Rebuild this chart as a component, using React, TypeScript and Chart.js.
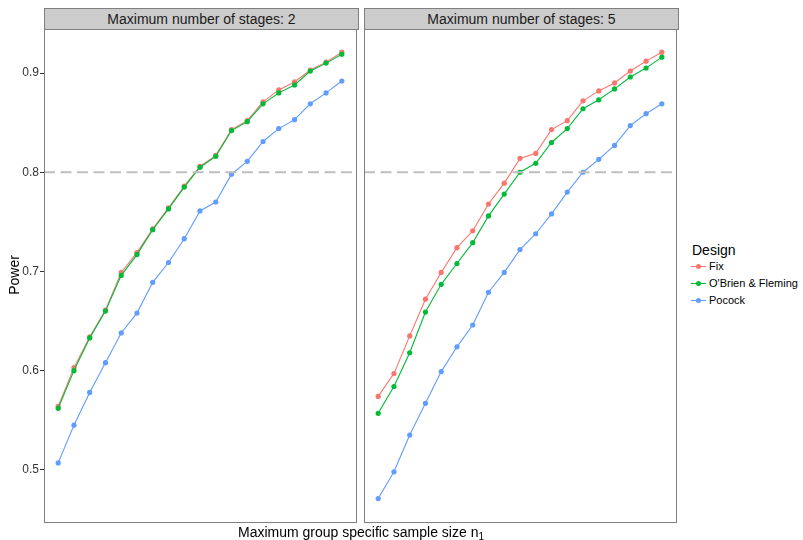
import React, { useEffect, useRef } from "react";
import { Chart, registerables } from "chart.js";
Chart.register(...registerables);

// ---- data ----
const steps = [1, 2, 3, 4, 5, 6, 7, 8, 9, 10, 11, 12, 13, 14, 15, 16, 17, 18, 19];
const yTicks = [0.5, 0.6, 0.7, 0.8, 0.9];
const threshold = 0.8;
const designs = ["Fix", "O'Brien & Fleming", "Pocock"];
const designColors = ["#F8766D", "#00BA38", "#619CFF"];
const panelTitles = ["Maximum number of stages: 2", "Maximum number of stages: 5"];

const fix2 = [0.564, 0.603, 0.634, 0.661, 0.699, 0.719, 0.743, 0.764, 0.786, 0.806, 0.817, 0.843, 0.852, 0.871, 0.883, 0.891, 0.903, 0.911, 0.921];
const obf2 = [0.562, 0.600, 0.633, 0.660, 0.696, 0.717, 0.742, 0.763, 0.785, 0.805, 0.816, 0.842, 0.851, 0.869, 0.880, 0.888, 0.902, 0.910, 0.919];
const pocock2 = [0.507, 0.545, 0.578, 0.608, 0.638, 0.658, 0.689, 0.709, 0.733, 0.761, 0.770, 0.798, 0.811, 0.831, 0.844, 0.853, 0.869, 0.880, 0.892];

const fix5 = [0.574, 0.597, 0.635, 0.672, 0.699, 0.724, 0.741, 0.768, 0.789, 0.814, 0.819, 0.843, 0.852, 0.872, 0.882, 0.890, 0.902, 0.912, 0.921];
const obf5 = [0.557, 0.584, 0.618, 0.659, 0.687, 0.708, 0.729, 0.756, 0.778, 0.800, 0.809, 0.830, 0.844, 0.864, 0.873, 0.884, 0.896, 0.905, 0.916];
const pocock5 = [0.471, 0.498, 0.535, 0.567, 0.599, 0.624, 0.646, 0.679, 0.699, 0.722, 0.738, 0.758, 0.780, 0.800, 0.813, 0.827, 0.847, 0.859, 0.869];

const FONT = "'Liberation Sans', Arial, Helvetica, sans-serif";
const X_MIN = 0.1;
const X_MAX = 19.9;
const Y_MIN = 0.4474;
const Y_MAX = 0.9444;

const borderPlugin = {
  id: "panelBorder",
  afterDraw(chart: any) {
    const { ctx, chartArea } = chart;
    ctx.save();
    ctx.strokeStyle = "#7F7F7F";
    ctx.lineWidth = 1;
    ctx.strokeRect(chartArea.left + 0.5, chartArea.top + 0.5, chartArea.right - chartArea.left, chartArea.bottom - chartArea.top);
    ctx.restore();
  },
};

function Panel(props: { series: number[][]; showY: boolean; left: number; width: number; padLeft: number; padRight: number }) {
  const ref = useRef<HTMLCanvasElement | null>(null);
  useEffect(() => {
    if (!ref.current) return;
    const mk = (vals: number[]) => steps.map((s, i) => ({ x: s, y: vals[i] }));
    const seriesDs = props.series.map((vals, k) => ({
      label: designs[k],
      data: mk(vals),
      borderColor: designColors[k],
      backgroundColor: designColors[k],
      borderWidth: 1.1,
      pointRadius: 2.6,
      pointBorderWidth: 0,
      pointBackgroundColor: designColors[k],
      tension: 0,
    }));
    const hline = {
      label: "threshold",
      data: [
        { x: X_MIN, y: threshold },
        { x: X_MAX, y: threshold },
      ],
      borderColor: "#BEBEBE",
      borderWidth: 2,
      borderDash: [11, 5.5],
      pointRadius: 0,
    };
    const yScale: any = {
      type: "linear",
      min: Y_MIN,
      max: Y_MAX,
      display: props.showY,
      afterBuildTicks: (scale: any) => {
        scale.ticks = yTicks.map((v) => ({ value: v }));
      },
      border: { display: false },
      grid: {
        display: true,
        drawOnChartArea: false,
        drawTicks: true,
        tickLength: 4,
        tickColor: "#333333",
        tickWidth: 1,
      },
      ticks: {
        padding: 1,
        color: "#333333",
        font: { family: FONT, size: 12 },
        callback: (v: any) => Number(v).toFixed(1),
      },
    };
    if (props.showY) {
      yScale.afterFit = (scale: any) => {
        scale.width = 44;
      };
    }
    const chart = new Chart(ref.current, {
      type: "line",
      data: { datasets: [hline, ...seriesDs.slice().reverse()] as any },
      options: {
        animation: false,
        responsive: false,
        maintainAspectRatio: false,
        layout: { padding: { top: 29, bottom: 18, left: props.padLeft, right: props.padRight } },
        plugins: { legend: { display: false }, tooltip: { enabled: false }, title: { display: false } },
        scales: {
          x: { type: "linear", min: X_MIN, max: X_MAX, display: false },
          y: yScale,
        },
      },
      plugins: [borderPlugin],
    });
    return () => chart.destroy();
  }, []);
  return (
    <canvas
      ref={ref}
      width={props.width}
      height={540}
      style={{ position: "absolute", left: props.left, top: 0, width: props.width, height: 540 }}
    />
  );
}

function Strip(props: { left: number; width: number; text: string }) {
  return (
    <div
      style={{
        position: "absolute",
        left: props.left,
        top: 8,
        width: props.width,
        height: 22,
        boxSizing: "border-box",
        background: "#CCCCCC",
        border: "1px solid #7F7F7F",
        fontFamily: FONT,
        fontSize: 14,
        color: "#1A1A1A",
        textAlign: "center",
        lineHeight: "20px",
      }}
    >
      {props.text}
    </div>
  );
}

export default function App() {
  return (
    <div style={{ position: "fixed", left: 0, top: 0, width: 803, height: 540, background: "#FFFFFF", overflow: "hidden" }}>
      <Panel series={[fix2, obf2, pocock2]} showY={true} left={0} width={360} padLeft={0} padRight={2} />
      <Panel series={[fix5, obf5, pocock5]} showY={false} left={360} width={320} padLeft={4} padRight={2} />
      <Strip left={44} width={315} text={panelTitles[0]} />
      <Strip left={364} width={315} text={panelTitles[1]} />
      <div
        style={{
          position: "absolute",
          left: 14 - 40,
          top: 275 - 9,
          width: 80,
          height: 18,
          lineHeight: "18px",
          textAlign: "center",
          transform: "rotate(-90deg)",
          fontFamily: FONT,
          fontSize: 14,
          color: "#000",
        }}
      >
        Power
      </div>
      <div
        style={{
          position: "absolute",
          left: 161,
          top: 524,
          width: 400,
          textAlign: "center",
          fontFamily: FONT,
          fontSize: 14,
          lineHeight: "16px",
          color: "#000",
          whiteSpace: "nowrap",
        }}
      >
        Maximum group specific sample size n<sub style={{ fontSize: 10, verticalAlign: "-3px", lineHeight: 0 }}>1</sub>
      </div>
      <div style={{ position: "absolute", left: 692, top: 242, fontFamily: FONT, fontSize: 14, lineHeight: "17px", color: "#000" }}>
        Design
      </div>
      {designs.map((d, k) => (
        <div key={d} style={{ position: "absolute", left: 691, top: 258 + k * 17, height: 17, width: 112 }}>
          <div style={{ position: "absolute", left: 0, top: 8, width: 15, height: 1, background: designColors[k] }} />
          <div
            style={{
              position: "absolute",
              left: 5,
              top: 6,
              width: 5,
              height: 5,
              borderRadius: "50%",
              background: designColors[k],
            }}
          />
          <div
            style={{
              position: "absolute",
              left: 18,
              top: 0,
              lineHeight: "17px",
              fontFamily: FONT,
              fontSize: 11,
              color: "#000",
              whiteSpace: "nowrap",
            }}
          >
            {d}
          </div>
        </div>
      ))}
    </div>
  );
}
